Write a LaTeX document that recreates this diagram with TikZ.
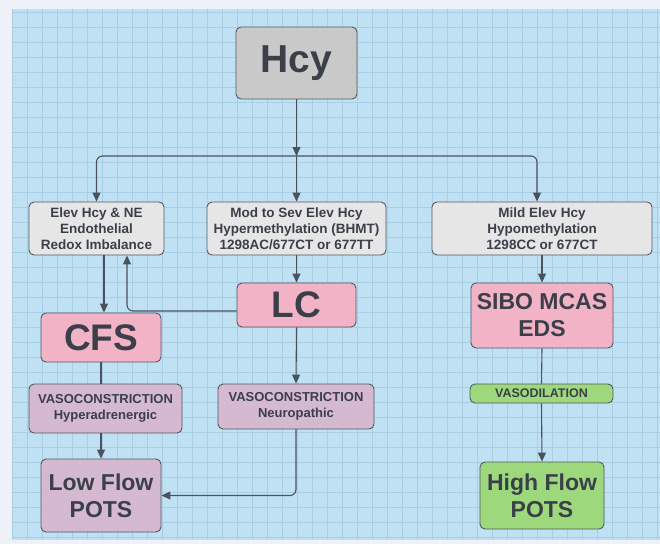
\documentclass[tikz,border=0pt]{standalone}
\usepackage{fontspec}
\setmainfont{Liberation Sans}
\usetikzlibrary{arrows.meta}
\definecolor{outerbg}{HTML}{EEF2F8}
\definecolor{panel}{HTML}{C0E1F3}
\definecolor{gridc}{HTML}{A8CEE4}
\definecolor{hcyfill}{HTML}{C9C9C9}
\definecolor{lgray}{HTML}{E6E6E6}
\definecolor{pinkf}{HTML}{F2B3C7}
\definecolor{mauvef}{HTML}{D5B9D1}
\definecolor{greenf}{HTML}{9DD97C}
\definecolor{txt}{HTML}{3A3F4A}
\definecolor{bord}{HTML}{525861}
\definecolor{linec}{HTML}{4A525E}
\tikzset{
  box/.style={draw=bord, line width=0.9pt, rounded corners=5pt, inner sep=0pt,
    align=center, text=txt, font=\bfseries},
  smalltxt/.style={font=\bfseries\fontsize{13.5}{16}\selectfont},
  bigtxt/.style={font=\bfseries\fontsize{23}{27}\selectfont},
  arr/.style={draw=linec, line width=1.1pt, -{Triangle[length=9pt,width=8pt]}, rounded corners=6pt},
  conn/.style={draw=linec, line width=1.1pt, rounded corners=6pt},
}
\begin{document}
\begin{tikzpicture}[x=1pt,y=-1pt]
\useasboundingbox (0,0) rectangle (660,544);
\fill[outerbg] (0,0) rectangle (660,544);
\fill[panel] (12,9) rectangle (660,540);
\foreach \x in {12,27,...,657} \draw[gridc, line width=0.6pt] (\x,9) -- (\x,540);
\foreach \y in {12,27,...,537} \draw[gridc, line width=0.6pt] (12,\y) -- (660,\y);

% nodes
\node[box, fill=hcyfill, minimum width=121pt, minimum height=72pt, font=\bfseries\fontsize{39}{44}\selectfont] (hcy) at (296.5,63) {Hcy};
\node[box, fill=lgray, smalltxt, minimum width=135pt, minimum height=53pt] (elev) at (96.5,228.5) {Elev Hcy \& NE\\Endothelial\\Redox Imbalance};
\node[box, fill=lgray, smalltxt, minimum width=179pt, minimum height=53pt] (mod) at (296.5,228.5) {Mod to Sev Elev Hcy\\Hypermethylation (BHMT)\\1298AC/677CT or 677TT};
\node[box, fill=lgray, smalltxt, minimum width=220pt, minimum height=53pt] (mild) at (542,228.5) {Mild Elev Hcy\\Hypomethylation\\1298CC or 677CT};
\node[box, fill=pinkf, minimum width=119pt, minimum height=44pt, font=\bfseries\fontsize{37}{40}\selectfont] (lc) at (296.5,305) {LC};
\node[box, fill=pinkf, minimum width=120pt, minimum height=49pt, font=\bfseries\fontsize{37}{40}\selectfont] (cfs) at (101,337.5) {CFS};
\node[box, fill=pinkf, bigtxt, minimum width=142pt, minimum height=65pt] (sibo) at (542,315.5) {SIBO MCAS\\EDS};
\node[box, fill=mauvef, smalltxt, minimum width=153pt, minimum height=49pt, font=\bfseries\fontsize{13}{16}\selectfont] (hyper) at (105.5,408.5) {VASOCONSTRICTION\\Hyperadrenergic};
\node[box, fill=mauvef, smalltxt, minimum width=156pt, minimum height=45pt, font=\bfseries\fontsize{13}{16}\selectfont] (neuro) at (296,406.5) {VASOCONSTRICTION\\Neuropathic};
\node[box, fill=greenf, minimum width=143pt, minimum height=19pt, font=\bfseries\fontsize{12.5}{14}\selectfont] (vdil) at (541.5,393.5) {VASODILATION};
\node[box, fill=mauvef, bigtxt, minimum width=120pt, minimum height=73pt] (low) at (101,495.5) {Low Flow\\POTS};
\node[box, fill=greenf, bigtxt, minimum width=124pt, minimum height=67pt] (high) at (542,495.5) {High Flow\\POTS};

% connectors
\coordinate (j) at (296.5,156);
\draw[arr] (hcy.south) -- (j);
\draw[arr] (j) -- (mod.north);
\draw[arr] (j) -| (elev.north);
\draw[arr] (j) -| ([xshift=-5pt]mild.north);
\draw[arr] ([xshift=7.5pt]elev.south) -- ([xshift=3pt]cfs.north);
\draw[arr] (mod.south) -- (lc.north);
\draw[arr] ([yshift=-6pt]lc.west) -| ([xshift=30.5pt]elev.south);
\draw[arr] (lc.south) -- (neuro.north);
\draw[conn] (cfs.south) -- (cfs.south |- hyper.north);
\draw[arr] (cfs.south |- hyper.south) -- (low.north);
\draw[arr] (neuro.south) |- (low.east);
\draw[arr] (mild.south) -- (sibo.north);
\draw[conn] (sibo.south) -- (vdil.north);
\draw[arr] (vdil.south) -- (high.north);
\end{tikzpicture}
\end{document}
